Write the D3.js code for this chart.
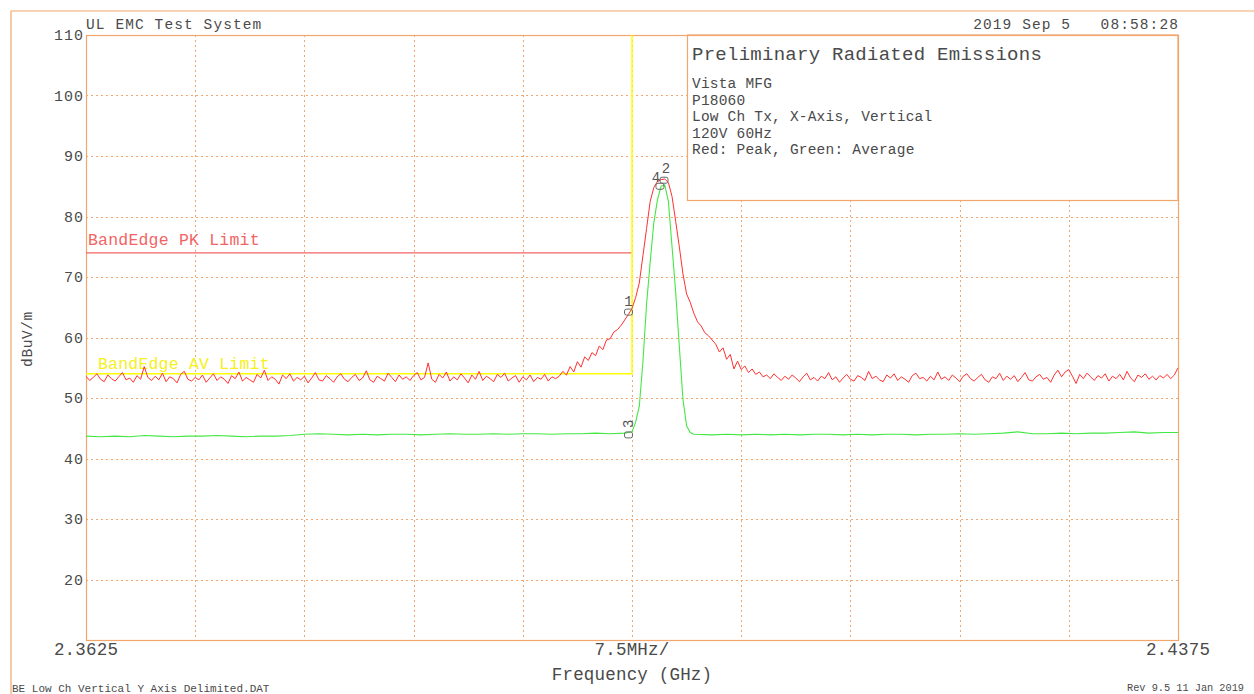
<!DOCTYPE html>
<html><head><meta charset="utf-8">
<script src="https://cdn.jsdelivr.net/npm/d3@7"></script>
<style>
body{margin:0;background:#fff}
svg{display:block}
text{font-family:"Liberation Mono","DejaVu Sans Mono",monospace;fill:#4a4a4a;white-space:pre}
</style>
</head><body>
<svg id="chart" width="1254" height="694"></svg>
<script>
// ---- data ----
const freqStart = 2.3625, freqStop = 2.4375, sweepStep = 0.00025;
const yTicks = [20, 30, 40, 50, 60, 70, 80, 90, 100, 110];
const xTickLabels = ["2.3625", "7.5MHz/", "2.4375"];
// Peak trace (red), one value per 0.25 MHz step
const peakLevels = [
53.6,52.9,53.4,54.0,53.1,52.7,53.8,53.2,52.8,53.5,
54.2,53.0,53.3,52.6,53.7,53.1,55.2,53.4,52.9,53.6,
53.0,54.1,52.7,53.5,53.2,52.5,53.9,54.4,53.1,52.8,
53.4,53.0,53.8,52.6,53.3,54.0,52.9,53.5,53.1,52.4,
53.7,53.2,54.3,52.8,53.4,53.0,52.6,53.9,53.3,54.6,
52.9,53.5,53.1,52.3,53.8,53.2,54.0,52.8,53.4,53.0,
53.6,52.5,53.3,54.2,53.0,52.8,53.7,53.2,52.6,53.5,
54.0,53.1,52.7,53.4,53.9,52.9,53.3,54.5,53.0,52.6,
53.6,53.2,52.8,54.1,53.4,52.7,53.8,53.1,53.5,52.9,
53.7,54.2,53.0,53.4,55.8,53.1,52.6,53.9,53.3,54.3,
52.8,53.5,53.0,54.0,53.3,52.5,53.8,53.1,54.4,52.9,
53.6,53.2,52.7,53.9,53.4,54.1,52.8,53.3,53.7,52.6,
53.5,53.0,53.8,52.7,53.4,53.1,53.9,52.8,53.5,53.2,
53.6,54.4,53.8,55.2,54.3,56.0,55.1,56.8,56.2,57.5,
57.0,58.6,58.0,59.6,59.8,60.9,61.3,62.0,62.9,63.8,
64.8,66.6,69.0,73.5,78.0,82.5,84.8,85.8,86.1,86.2,
85.6,83.3,79.2,75.0,70.5,67.2,65.8,64.0,62.6,61.9,
60.8,60.3,59.6,58.9,57.6,58.3,56.4,57.2,54.8,56.1,
54.7,55.3,54.2,54.8,
53.9,54.3,53.5,53.8,53.2,54.0,53.4,52.9,53.6,53.1,
53.8,53.3,52.7,53.5,54.1,53.0,53.4,52.8,53.6,53.2,
54.2,53.0,53.5,52.6,53.3,53.9,53.1,52.8,53.7,53.4,
52.9,54.4,53.2,53.6,53.0,52.7,53.8,53.3,54.0,52.9,
53.5,53.1,52.6,53.7,54.1,53.2,53.4,52.8,53.6,53.0,
54.3,53.1,53.5,52.9,53.8,53.3,52.7,53.6,54.0,53.2,
52.8,53.4,53.9,53.0,52.6,53.5,53.2,54.1,52.9,53.6,
53.1,53.7,52.7,53.4,54.2,53.0,52.8,53.5,53.9,53.1,
53.4,52.6,53.8,54.6,53.5,54.3,54.7,53.6,52.4,53.9,
53.2,54.1,53.5,52.9,53.7,53.3,54.0,52.8,53.6,53.2,
53.9,53.0,54.4,53.3,52.7,53.8,53.4,54.0,53.1,53.6,
53.0,53.7,53.3,53.9,53.2,53.8,55.0
];
// Average trace (green)
const avgFreqs = [
2.3625,2.3635,2.3645,2.3655,2.3665,2.3675,2.3685,2.3695,2.3705,2.3715,
2.3725,2.3735,2.3745,2.3755,2.3765,2.3775,2.3785,2.3795,2.3805,2.3815,
2.3825,2.3835,2.3845,2.3855,2.3865,2.3875,2.3885,2.3895,2.3905,2.3915,
2.3925,2.3935,2.3945,2.3955,2.3965,2.3975,2.3985,2.3995,
2.4000,2.40025,2.4005,2.40075,2.4010,2.40125,2.4015,2.40175,2.4020,2.40225,
2.4025,2.40275,2.4030,2.40325,2.4035,2.40375,2.4040,2.40425,
2.4055,2.4065,2.4075,2.4085,2.4095,2.4105,2.4115,2.4125,2.4135,2.4145,
2.4155,2.4165,2.4175,2.4185,2.4195,2.4205,2.4215,2.4225,2.4235,2.4245,
2.4255,2.4265,2.4275,2.4285,2.4295,2.4305,2.4315,2.4325,2.4335,2.4345,
2.4355,2.4365,2.4375
];
const avgLevels = [
43.7,43.6,43.7,43.6,43.8,43.7,43.6,43.7,43.7,43.8,
43.7,43.6,43.7,43.7,43.8,44.0,44.1,44.0,43.9,44.0,
43.9,44.0,44.0,43.9,44.0,44.1,44.0,44.0,44.1,44.0,
44.1,44.1,44.0,44.1,44.1,44.2,44.1,44.2,
44.4,46.0,48.6,56.0,65.5,72.5,79.0,82.8,85.0,85.2,
82.5,75.0,67.5,58.5,49.8,45.4,44.3,44.0,
43.9,44.0,43.9,44.0,43.9,44.0,43.9,44.0,44.0,43.9,
44.0,43.9,44.0,44.0,43.9,44.0,44.0,44.1,44.0,44.1,
44.2,44.4,44.1,44.1,44.2,44.1,44.2,44.2,44.3,44.4,
44.2,44.3,44.3
];
const limitNames = ["BandEdge PK Limit", "BandEdge AV Limit"];
const limitLevels = [74, 54];
const limitEndFreq = 2.4;
const markerIds = ["1", "2", "3", "4"];
const markerFreqs = [2.39976, 2.40220, 2.39976, 2.40192];
const markerLevels = [64.2, 86.0, 43.9, 85.0];
const headerLeft = "UL EMC Test System";
const headerRight = "2019 Sep 5   08:58:28";
const infoTitle = "Preliminary Radiated Emissions";
const infoLines = ["Vista MFG", "P18060", "Low Ch Tx, X-Axis, Vertical", "120V 60Hz", "Red: Peak, Green: Average"];
const yAxisTitle = "dBuV/m";
const xAxisTitle = "Frequency (GHz)";
const footerLeft = "BE Low Ch Vertical Y Axis Delimited.DAT";
const footerRight = "Rev 9.5 11 Jan 2019";

// ---- drawing ----
const svg = d3.select("#chart");
const L = 86, R = 1178, T = 35, B = 640;
const x = d3.scaleLinear().domain([freqStart, freqStop]).range([L, R]);
const y = d3.scaleLinear().domain([10, 110]).range([B, T]);
const frameCol = "#f2a66c", gridCol = "#f0a870";

// outer frame
svg.append("path").attr("d", `M11,694V11H1254`).attr("fill", "none").attr("stroke", frameCol).attr("stroke-width", 1.2);

// grid
const gridG = svg.append("g").attr("stroke", gridCol).attr("stroke-width", 1).attr("stroke-dasharray", "2,3");
const vGrid = d3.range(1, 10).map(k => freqStart + k * (freqStop - freqStart) / 10);
gridG.selectAll("line.v").data(vGrid).join("line")
  .attr("x1", d => Math.round(x(d)) + 0.5).attr("x2", d => Math.round(x(d)) + 0.5)
  .attr("y1", T).attr("y2", B);
gridG.selectAll("line.h").data(yTicks.filter(t => t < 110)).join("line")
  .attr("x1", L).attr("x2", R)
  .attr("y1", d => Math.round(y(d)) + 0.5).attr("y2", d => Math.round(y(d)) + 0.5);

// info box
svg.append("rect").attr("x", 687.5).attr("y", T).attr("width", R - 687.5).attr("height", 200.5 - T)
  .attr("fill", "#fff").attr("stroke", frameCol).attr("stroke-width", 1.2);

// plot frame
svg.append("rect").attr("x", L + 0.5).attr("y", T + 0.5).attr("width", R - L).attr("height", B - T)
  .attr("fill", "none").attr("stroke", frameCol).attr("stroke-width", 1.2);

// info text
svg.append("text").attr("x", 692).attr("y", 60).attr("font-size", 19).attr("letter-spacing", 0.2)
  .attr("textLength", 350).attr("lengthAdjust", "spacing").text(infoTitle);
svg.selectAll("text.info").data(infoLines).join("text")
  .attr("x", 692).attr("y", (d, i) => 88 + i * 16.5).attr("font-size", 14.5).attr("letter-spacing", 0.2).text(d => d);

// header
svg.append("text").attr("x", 86).attr("y", 29).attr("font-size", 14.5).attr("letter-spacing", 1.1).text(headerLeft);
svg.append("text").attr("x", 1179).attr("y", 29).attr("font-size", 14.5).attr("letter-spacing", 1.1)
  .attr("text-anchor", "end").attr("xml:space", "preserve").text(headerRight);

// y tick labels
svg.selectAll("text.yt").data(yTicks).join("text")
  .attr("x", 84).attr("y", d => y(d) + 5).attr("font-size", 15).attr("letter-spacing", 1)
  .attr("text-anchor", "end").text(d => d);

// x labels
const xLabPos = [freqStart, (freqStart + freqStop) / 2, freqStop];
svg.selectAll("text.xt").data(xTickLabels).join("text")
  .attr("x", (d, i) => x(xLabPos[i])).attr("y", 655).attr("font-size", 17.5).attr("letter-spacing", 0.2)
  .attr("text-anchor", "middle").text(d => d);
svg.append("text").attr("x", 632).attr("y", 680).attr("font-size", 17.5).attr("letter-spacing", 0.2)
  .attr("text-anchor", "middle").text(xAxisTitle);
svg.append("text").attr("transform", "translate(32,339) rotate(-90)").attr("font-size", 14.5)
  .attr("letter-spacing", 0.6).attr("text-anchor", "middle").text(yAxisTitle);

// footer
svg.append("text").attr("x", 12).attr("y", 692).attr("font-size", 11).text(footerLeft);
svg.append("text").attr("x", 1127).attr("y", 691).attr("font-size", 10.5)
  .attr("textLength", 117).attr("lengthAdjust", "spacingAndGlyphs").text(footerRight);

// limits
const pkCol = "#f26464", avCol = "#ffff00";
svg.append("line").attr("x1", x(freqStart)).attr("x2", x(limitEndFreq))
  .attr("y1", y(limitLevels[0])).attr("y2", y(limitLevels[0])).attr("stroke", pkCol).attr("stroke-width", 1.3);
svg.append("path").attr("d", `M${x(freqStart)},${y(limitLevels[1])}H${x(limitEndFreq)}V${y(110)}`)
  .attr("fill", "none").attr("stroke", avCol).attr("stroke-width", 1.5);
svg.append("text").attr("x", 88).attr("y", y(limitLevels[0]) - 8).attr("font-size", 16.5).attr("letter-spacing", 0.2)
  .style("fill", pkCol).text(limitNames[0]);
svg.append("text").attr("x", 98).attr("y", y(limitLevels[1]) - 5).attr("font-size", 16.5).attr("letter-spacing", 0.2)
  .style("fill", "#f5f020").text(limitNames[1]);

// traces
svg.append("defs").append("clipPath").attr("id", "clip").append("rect")
  .attr("x", L).attr("y", T).attr("width", R - L).attr("height", B - T);
const line = d3.line().x(d => x(d[0])).y(d => y(d[1]));
const peakData = peakLevels.map((v, i) => [freqStart + i * sweepStep, v]);
const avgData = avgFreqs.map((f, i) => [f, avgLevels[i]]);
svg.append("path").datum(avgData).attr("d", line).attr("clip-path", "url(#clip)")
  .attr("fill", "none").attr("stroke", "#44e844").attr("stroke-width", 1.1);
svg.append("path").datum(peakData).attr("d", line).attr("clip-path", "url(#clip)")
  .attr("fill", "none").attr("stroke", "#ff3030").attr("stroke-width", 1);

// markers
const labelShift = {"1": [0, -6], "2": [2, -7], "3": [0, -11], "4": [-4, -4]};
const mk = svg.selectAll("g.mk").data(markerIds).join("g")
  .attr("transform", (d, i) => `translate(${x(markerFreqs[i])},${y(markerLevels[i])})`);
mk.append("rect").attr("x", -4).attr("y", -3).attr("width", 8).attr("height", 6).attr("rx", 2)
  .attr("fill", "none").attr("stroke", "#666").attr("stroke-width", 1);
mk.append("text").attr("text-anchor", "middle").attr("font-size", 14)
  .attr("transform", d => `translate(${labelShift[d][0]},${labelShift[d][1]})` + (d === "3" ? " rotate(-90)" : ""))
  .attr("dy", d => d === "3" ? "0.35em" : 0)
  .style("fill", "#555").text(d => d);
</script>
</body></html>
